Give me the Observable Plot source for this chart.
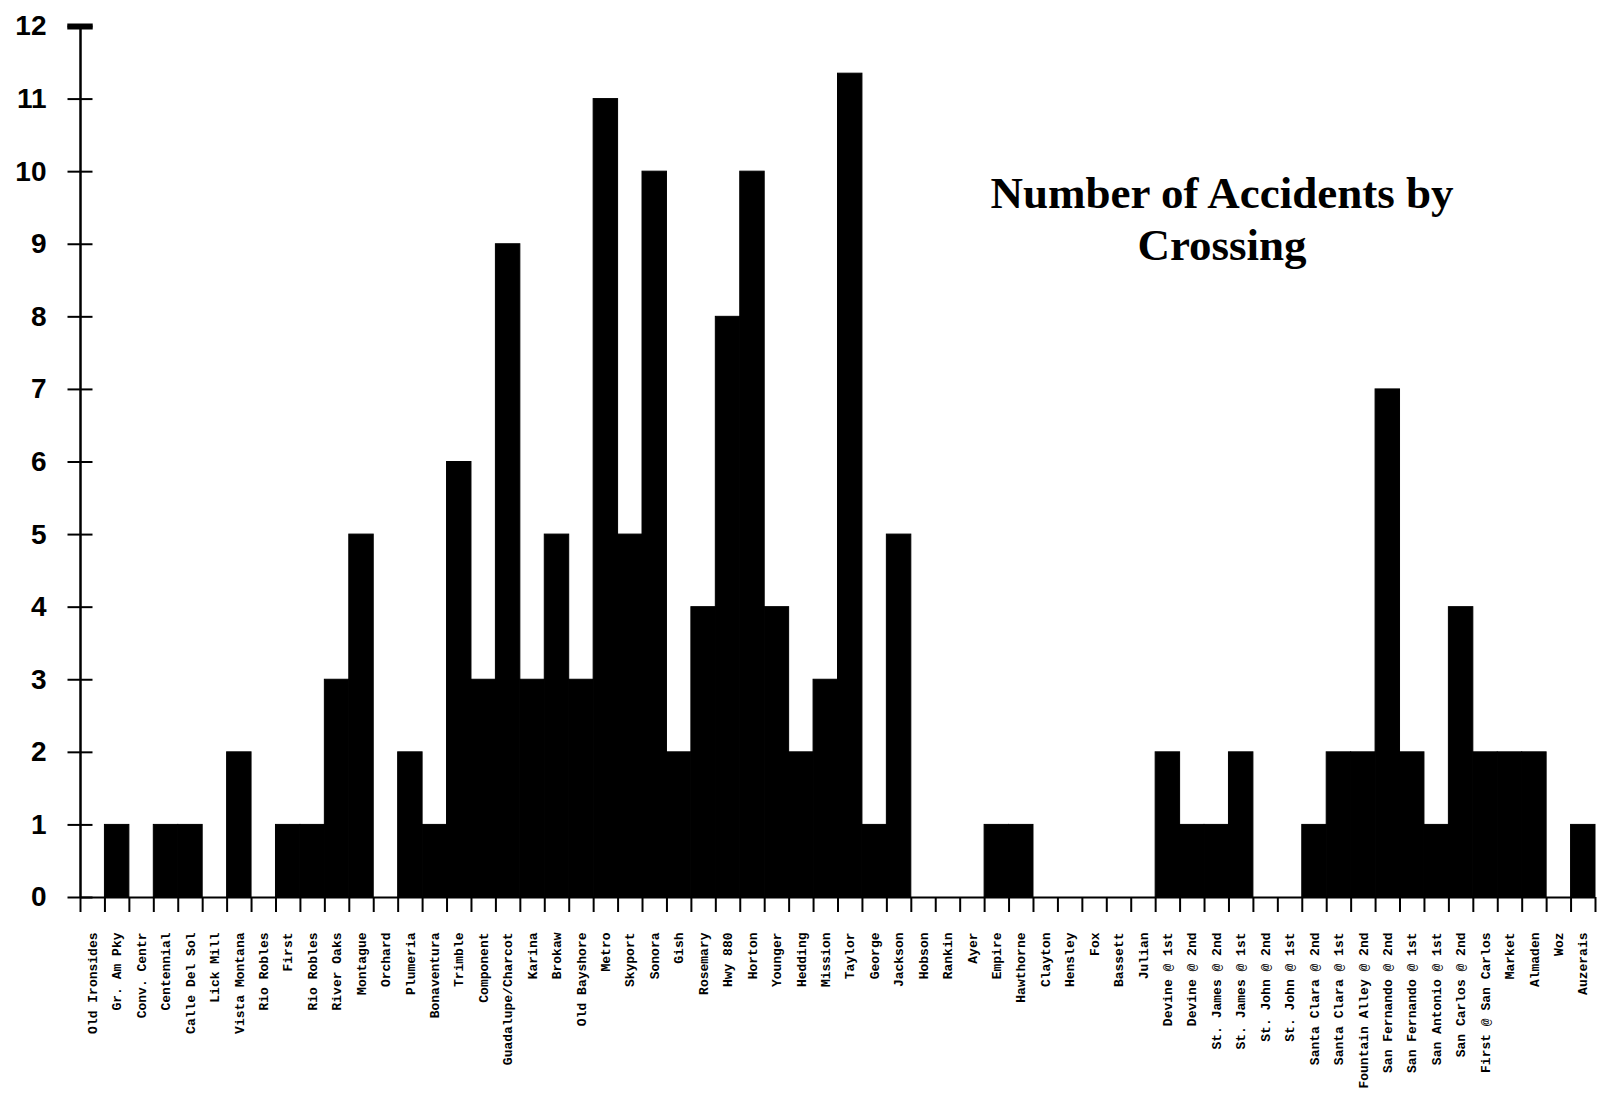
<!DOCTYPE html>
<html>
<head>
<meta charset="utf-8">
<script src="https://cdn.jsdelivr.net/npm/d3@7"></script>
<script src="https://cdn.jsdelivr.net/npm/@observablehq/plot@0.6"></script>
<style>
  html, body { margin: 0; padding: 0; background: #fff; }
  #wrap { position: relative; width: 1597px; height: 1099px; overflow: hidden; }
  #title {
    position: absolute; left: 1222px; top: 167px; transform: translateX(-50%);
    font-family: "Liberation Serif", "Times New Roman", serif; font-weight: bold;
    font-size: 45px; line-height: 52px; text-align: center; white-space: nowrap; color: #000;
  }
</style>
</head>
<body>
<div id="wrap"><div id="title">Number of Accidents by<br>Crossing</div></div>
<script>
const crossings = [
  "Old Ironsides", "Gr. Am Pky", "Conv. Centr", "Centennial", "Calle Del Sol", "Lick Mill",
  "Vista Montana", "Rio Robles", "First", "Rio Robles", "River Oaks", "Montague", "Orchard",
  "Plumeria", "Bonaventura", "Trimble", "Component", "Guadalupe/Charcot", "Karina", "Brokaw",
  "Old Bayshore", "Metro", "Skyport", "Sonora", "Gish", "Rosemary", "Hwy 880", "Horton",
  "Younger", "Hedding", "Mission", "Taylor", "George", "Jackson", "Hobson", "Rankin", "Ayer",
  "Empire", "Hawthorne", "Clayton", "Hensley", "Fox", "Bassett", "Julian",
  "Devine @ 1st", "Devine @ 2nd", "St. James @ 2nd", "St. James @ 1st", "St. John @ 2nd",
  "St. John @ 1st", "Santa Clara @ 2nd", "Santa Clara @ 1st", "Fountain Alley @ 2nd",
  "San Fernando @ 2nd", "San Fernando @ 1st", "San Antonio @ 1st", "San Carlos @ 2nd",
  "First @ San Carlos", "Market", "Almaden", "Woz", "Auzerais"
];
const accidents = [
  0, 1, 0, 1, 1, 0,
  2, 0, 1, 1, 3, 5, 0,
  2, 1, 6, 3, 9, 3, 5,
  3, 11, 5, 10, 2, 4, 8, 10,
  4, 2, 3, 11.35, 1, 5, 0, 0, 0,
  1, 1, 0, 0, 0, 0, 0,
  2, 1, 1, 2, 0,
  0, 1, 2, 2,
  7, 2, 1, 4,
  2, 2, 2, 0, 1
];
const yTicks = [0, 1, 2, 3, 4, 5, 6, 7, 8, 9, 10, 11, 12];
const title = "Number of Accidents by Crossing";

const data = crossings.map((name, i) => ({i, name, value: accidents[i]}));
const boundaries = d3.range(crossings.length + 1);

const chart = Plot.plot({
  width: 1597,
  height: 1099,
  marginLeft: 80,
  marginRight: 2,
  marginTop: 26,
  marginBottom: 202,
  style: {background: "#fff", color: "#000"},
  x: {type: "linear", domain: [0, crossings.length], axis: null},
  y: {domain: [0, 12], axis: null},
  marks: [
    Plot.rectY(data.filter(d => d.value > 0), {
      x1: d => d.i, x2: d => d.i + 1, y1: 0, y2: "value",
      fill: "#000", stroke: "#000", strokeWidth: 1
    }),
    // x baseline and boundary ticks
    Plot.ruleY([0], {stroke: "#000", strokeWidth: 2}),
    Plot.axisX({ticks: boundaries, tickSize: 15, tickFormat: () => "", strokeWidth: 2, anchor: "bottom", label: null}),
    // crossing labels
    Plot.text(data, {
      x: d => d.i + 0.5, y: 0, text: "name", rotate: -90, textAnchor: "end", dy: 35,
      fontFamily: "Liberation Mono, Courier New, monospace", fontWeight: "bold", fontSize: 13, fill: "#000"
    }),
    // y axis line
    Plot.ruleX([0], {y1: 0, y2: 12, stroke: "#000", strokeWidth: 2.5}),
    // crossing y ticks
    Plot.axisY({ticks: yTicks, tickSize: 25, dx: 12.5, tickFormat: () => "", strokeWidth: 2, anchor: "left", label: null}),
    Plot.ruleY([12], {x1: -0.52, x2: 0.52, stroke: "#000", strokeWidth: 6}),
    Plot.axisY({
      ticks: yTicks, tickSize: 0, tickPadding: 34, anchor: "left", label: null,
      fontFamily: "Liberation Sans, Arial, sans-serif", fontWeight: "bold", fontSize: 28
    })
  ]
});
chart.setAttribute("aria-label", title);
document.getElementById("wrap").prepend(chart);
</script>
</body>
</html>
